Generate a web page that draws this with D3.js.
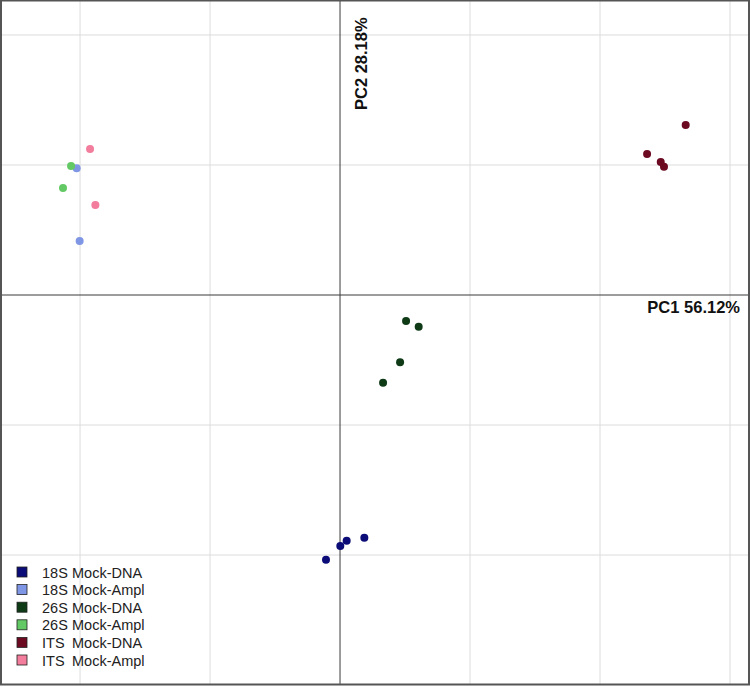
<!DOCTYPE html>
<html><head><meta charset="utf-8">
<script src="https://cdn.jsdelivr.net/npm/d3@7"></script>
<style>body{margin:0;background:#fff}svg{display:block}</style>
</head><body>
<script>
const groups = ["18S Mock-DNA","18S Mock-Ampl","26S Mock-DNA","26S Mock-Ampl","ITS Mock-DNA","ITS Mock-Ampl"];
const colors = ["#0c0c78","#7f96e4","#0e3a16","#63c965","#6c0a22","#f27d9c"];
const pc1_18S_DNA = [0.0187,0.0051,0.0002,-0.0108];
const pc2_18S_DNA = [-0.1867,-0.1890,-0.1931,-0.2036];
const pc1_18S_Ampl = [-0.2026,-0.2003];
const pc2_18S_Ampl = [0.0974,0.0415];
const pc1_26S_DNA = [0.0508,0.0605,0.0462,0.0331];
const pc2_26S_DNA = [-0.0200,-0.0244,-0.0518,-0.0675];
const pc1_26S_Ampl = [-0.2069,-0.2131];
const pc2_26S_Ampl = [0.0992,0.0823];
const pc1_ITS_DNA = [0.2659,0.2362,0.2467,0.2492];
const pc2_ITS_DNA = [0.1308,0.1085,0.1023,0.0987];
const pc1_ITS_Ampl = [-0.1923,-0.1882];
const pc2_ITS_Ampl = [0.1123,0.0692];
const xTicks = [-0.2,-0.1,0,0.1,0.2,0.3];
const yTicks = [0.2,0.1,0,-0.1,-0.2];
const xLabel = "PC1 56.12%";
const yLabel = "PC2 28.18%";

const series = [
  [pc1_18S_DNA,pc2_18S_DNA],[pc1_18S_Ampl,pc2_18S_Ampl],
  [pc1_26S_DNA,pc2_26S_DNA],[pc1_26S_Ampl,pc2_26S_Ampl],
  [pc1_ITS_DNA,pc2_ITS_DNA],[pc1_ITS_Ampl,pc2_ITS_Ampl]
];

const W=750,H=687;
const L=1,R=749,T=0,B=684;
const svg=d3.select("body").append("svg").attr("width",W).attr("height",H);
const x=d3.scaleLinear().domain([-0.2608,0.3146]).range([L,R]);
const y=d3.scaleLinear().domain([0.2269,-0.2992]).range([T,B]);

svg.append("g").selectAll("line").data(xTicks.filter(d=>d!==0)).join("line")
  .attr("x1",d=>x(d)).attr("x2",d=>x(d)).attr("y1",T).attr("y2",B)
  .attr("stroke","#dcdcdc").attr("stroke-width",1);
svg.append("g").selectAll("line").data(yTicks.filter(d=>d!==0)).join("line")
  .attr("y1",d=>y(d)).attr("y2",d=>y(d)).attr("x1",L).attr("x2",R)
  .attr("stroke","#dcdcdc").attr("stroke-width",1);

svg.append("line").attr("x1",x(0)).attr("x2",x(0)).attr("y1",T).attr("y2",B).attr("stroke","#3a3a3a").attr("stroke-width",1);
svg.append("line").attr("y1",y(0)).attr("y2",y(0)).attr("x1",L).attr("x2",R).attr("stroke","#3a3a3a").attr("stroke-width",1);

svg.append("rect").attr("x",L).attr("y",T+0.5).attr("width",R-L).attr("height",B-T)
  .attr("fill","none").attr("stroke","#555").attr("stroke-width",2);

series.forEach((s,i)=>{
  const pts=s[0].map((v,j)=>[v,s[1][j]]);
  svg.append("g").selectAll("circle").data(pts).join("circle")
    .attr("cx",d=>x(d[0])).attr("cy",d=>y(d[1])).attr("r",4)
    .attr("fill",colors[i]);
});

svg.append("text").attr("x",740).attr("y",y(0)+18).attr("text-anchor","end")
  .attr("font-family","Liberation Sans, Arial, sans-serif").attr("font-weight","bold")
  .attr("font-size",16.5).attr("fill","#111").text(xLabel);
svg.append("text").attr("transform",`translate(${x(0)+27},110) rotate(-90)`)
  .attr("font-family","Liberation Sans, Arial, sans-serif").attr("font-weight","bold")
  .attr("font-size",16.5).attr("fill","#111").text(yLabel);

const lg=svg.append("g").attr("transform","translate(17,567)");
groups.forEach((g,i)=>{
  const row=lg.append("g").attr("transform",`translate(0,${i*17.6})`);
  row.append("rect").attr("x",0).attr("y",0).attr("width",10).attr("height",10)
    .attr("fill",colors[i]).attr("stroke","#222").attr("stroke-width",0.8);
  const parts=g.split(" ");
  const t=row.append("text").attr("y",10.5)
    .attr("font-family","Liberation Sans, Arial, sans-serif").attr("font-size",14.5)
    .attr("fill","#222");
  t.append("tspan").attr("x",25).text(parts[0]);
  t.append("tspan").attr("x",55).text(parts.slice(1).join(" "));
});
</script>
</body></html>
